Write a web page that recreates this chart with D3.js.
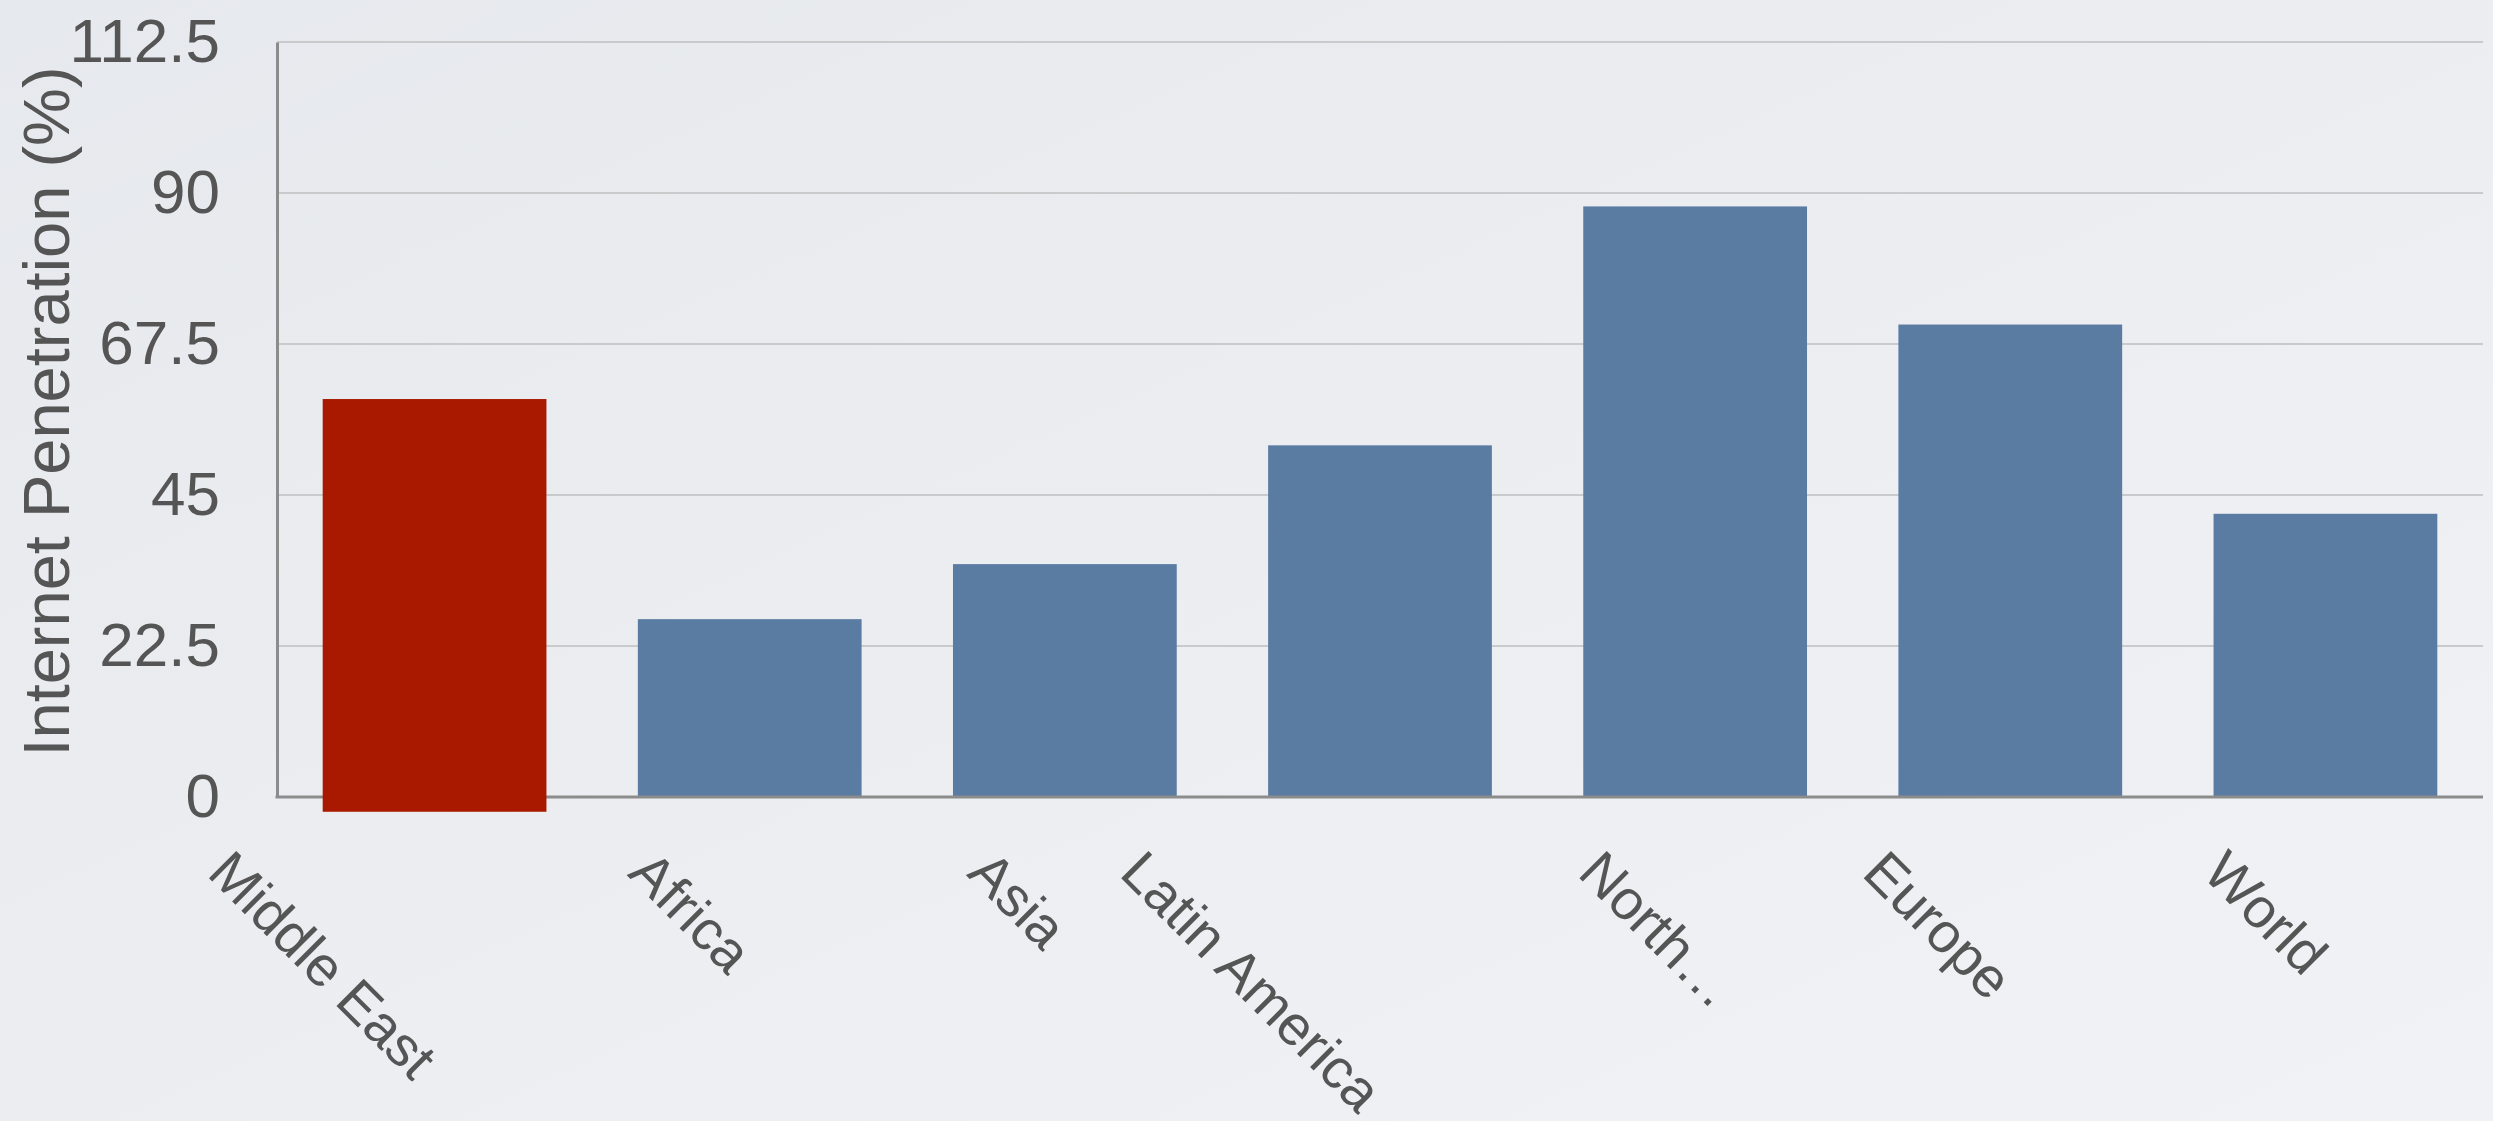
<!DOCTYPE html>
<html>
<head>
<meta charset="utf-8">
<script src="https://cdn.jsdelivr.net/npm/d3@7/dist/d3.min.js"></script>
<style>
  html, body { margin: 0; padding: 0; overflow: hidden; }
  svg { display: block; }
  text { font-family: "Liberation Sans", Arial, Helvetica, sans-serif; fill: #555555; }
</style>
</head>
<body>
<svg id="chart" width="2493" height="1121"></svg>
<script>
// ---- data ----
const categories = ["Middle East", "Africa", "Asia", "Latin America", "North\u2026", "Europe", "World"];
const penetration = [59.3, 26.5, 34.7, 52.4, 88.0, 70.4, 42.2];
const highlighted = ["Middle East"];
const yTicks = [0, 22.5, 45, 67.5, 90, 112.5];
const yTitle = "Internet Penetration (%)";

// ---- layout ----
const W = 2493, H = 1121;
const margin = { left: 277, right: 10, top: 42, bottom: 324 };
const svg = d3.select("#chart");

const defs = svg.append("defs");
const grad = defs.append("linearGradient").attr("id", "bg")
  .attr("x1", "0").attr("y1", "0").attr("x2", "1").attr("y2", "1");
grad.append("stop").attr("offset", "0").attr("stop-color", "#e6e9ed");
grad.append("stop").attr("offset", "1").attr("stop-color", "#f1f2f5");
svg.append("rect").attr("width", W).attr("height", H).attr("fill", "url(#bg)");

const x = d3.scaleBand()
  .domain(categories)
  .range([margin.left, W - margin.right])
  .paddingInner(0.29)
  .paddingOuter(0.145);

const y = d3.scaleLinear()
  .domain([0, 112.5])
  .range([H - margin.bottom, margin.top]);

// gridlines
svg.append("g")
  .selectAll("line")
  .data(yTicks.filter(d => d > 0))
  .join("line")
  .attr("x1", margin.left).attr("x2", W - margin.right)
  .attr("y1", d => y(d)).attr("y2", d => y(d))
  .attr("stroke", "#c9cacc").attr("stroke-width", 2);

// bars
const rows = categories.map((c, i) => ({ c, v: penetration[i], hi: highlighted.includes(c) }));
svg.append("g")
  .selectAll("rect")
  .data(rows.filter(d => !d.hi))
  .join("rect")
  .attr("x", d => x(d.c))
  .attr("width", x.bandwidth())
  .attr("y", d => y(d.v))
  .attr("height", d => y(0) - y(d.v))
  .attr("fill", "#5a7ba2");

// axes
const yAxis = d3.axisLeft(y).tickValues(yTicks).tickSize(0).tickPadding(57)
  .tickFormat(d => d3.format("~g")(d));
const gy = svg.append("g").attr("transform", `translate(${margin.left},0)`).call(yAxis);
gy.select(".domain").attr("stroke", "#8c8c8c").attr("stroke-width", 3);
gy.selectAll("text").style("font-size", "62px").attr("fill", "#555555")
  .style("font-family", "'Liberation Sans', Arial, sans-serif");

svg.append("line")
  .attr("x1", margin.left - 1.5).attr("x2", W - margin.right)
  .attr("y1", y(0)).attr("y2", y(0))
  .attr("stroke", "#8c8c8c").attr("stroke-width", 3);

// highlighted bar drawn above the axis line, slightly overshooting the baseline
svg.append("g")
  .selectAll("rect")
  .data(rows.filter(d => d.hi))
  .join("rect")
  .attr("x", d => x(d.c))
  .attr("width", x.bandwidth())
  .attr("y", d => y(d.v))
  .attr("height", d => y(-2.2) - y(d.v))
  .attr("fill", "#a81900");

// x labels, rotated 45deg; positioned by the length of the visible word (ellipsis overflows)
const cos45 = Math.SQRT1_2;
const xl = svg.append("g").selectAll("text")
  .data(categories)
  .join("text")
  .style("font-size", "56px")
  .attr("text-anchor", "start")
  .text(d => d);
xl.each(function(d) {
  const n = d.endsWith("\u2026") ? d.length - 1 : d.length;
  const L = this.getSubStringLength(0, n);
  const cx = x(d) + x.bandwidth() / 2;
  const x0 = cx - L * cos45 - 22;
  d3.select(this).attr("transform", `translate(${x0},${y(0) + 78}) rotate(45)`);
});

// y title
svg.append("text")
  .attr("transform", `translate(69,${(y(0) + y(112.5)) / 2 - 8}) rotate(-90)`)
  .attr("text-anchor", "middle")
  .style("font-size", "65px")
  .text(yTitle);
</script>
</body>
</html>
